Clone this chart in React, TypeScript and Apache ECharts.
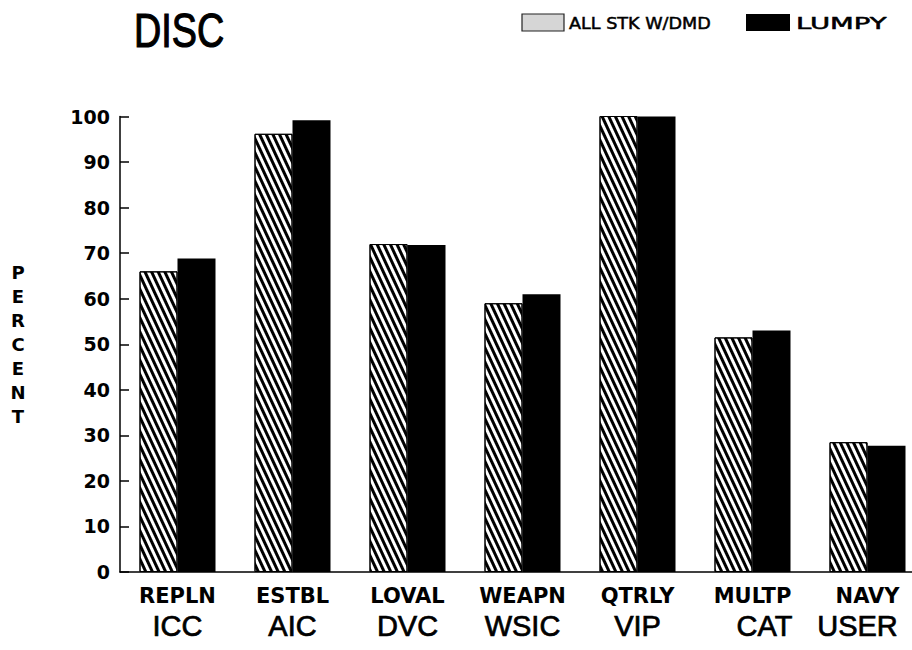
import React, { useEffect, useRef } from "react";
import * as echarts from "echarts";

const categories = ["REPLN", "ESTBL", "LOVAL", "WEAPN", "QTRLY", "MULTP", "NAVY"];
const subLabels = ["ICC", "AIC", "DVC", "WSIC", "VIP", "CAT", "USER"];
const allStkValues = [66, 96.2, 72, 59, 100.3, 51.5, 28.5];
const lumpyValues = [68.8, 99.2, 71.8, 61, 100, 53, 27.7];
const seriesNames = ["ALL STK W/DMD", "LUMPY"];
const titleText = "DISC";
const yAxisName = "PERCENT";
const yMin = 0;
const yMax = 100;
const yInterval = 10;

export default function App() {
  const ref = useRef<HTMLDivElement>(null);

  useEffect(() => {
    if (!ref.current) return;
    const chart = echarts.init(ref.current, undefined, { renderer: "svg" });
    const subKey = (i: number) => (i === 5 ? "c" : i === 6 ? "d" : "b");
    const subStyle = {
      fontFamily: "Liberation Sans",
      fontSize: 29,
      lineHeight: 34,
      color: "#000",
      textBorderColor: "#000",
      textBorderWidth: 0.7,
    };
    const legendText = {
      fontFamily: "DejaVu Sans",
      fontSize: 16,
      fill: "#000",
      stroke: "#000",
      lineWidth: 0.5,
      textAlign: "left",
      textVerticalAlign: "middle",
    };
    const option = {
      animation: false,
      backgroundColor: "#fff",
      grid: { left: 120, top: 116.5, width: 805, bottom: 78, containLabel: false },
      graphic: [
        {
          type: "text",
          x: 134,
          y: 30,
          scaleX: 0.77,
          style: {
            text: titleText,
            fontFamily: "Liberation Sans",
            fontSize: 49,
            fill: "#000",
            stroke: "#000",
            lineWidth: 1.2,
            textAlign: "left",
            textVerticalAlign: "middle",
          },
        },
        {
          type: "rect",
          shape: { x: 522, y: 14, width: 42, height: 17 },
          style: { fill: "#d6d6d6", stroke: "#222", lineWidth: 1.2 },
        },
        {
          type: "text",
          x: 569,
          y: 23,
          scaleX: 1.1,
          style: { ...legendText, text: seriesNames[0] },
        },
        {
          type: "rect",
          shape: { x: 746, y: 14, width: 44, height: 17 },
          style: { fill: "#000" },
        },
        {
          type: "text",
          x: 796,
          y: 23,
          scaleX: 1.72,
          style: { ...legendText, text: seriesNames[1] },
        },
      ],
      xAxis: {
        type: "category",
        data: categories,
        axisLine: { show: true, lineStyle: { color: "#000", width: 1.5 } },
        axisTick: { show: false },
        splitLine: { show: false },
        axisLabel: {
          interval: 0,
          margin: 11,
          color: "#000",
          formatter: (value: string, index: number) =>
            `{a|${value}}\n{${subKey(index)}|${subLabels[index]}}`,
          rich: {
            a: { fontFamily: "DejaVu Sans", fontWeight: "bold", fontSize: 21, lineHeight: 26, color: "#000" },
            b: { ...subStyle },
            c: { ...subStyle, padding: [0, 0, 0, 24] },
            d: { ...subStyle, padding: [0, 20, 0, 0] },
          },
        },
      },
      yAxis: {
        type: "value",
        min: yMin,
        max: yMax,
        interval: yInterval,
        name: yAxisName.split("").join("\n"),
        nameLocation: "middle",
        nameRotate: 0,
        nameGap: 102,
        nameTextStyle: {
          fontFamily: "DejaVu Sans",
          fontWeight: "bold",
          fontSize: 18,
          lineHeight: 24,
          color: "#000",
          align: "center",
          verticalAlign: "middle",
          padding: [20, 0, 0, 0],
        },
        axisLine: { show: true, lineStyle: { color: "#000", width: 1.5 } },
        axisTick: { show: true, inside: true, length: 9, lineStyle: { color: "#000", width: 1.5 } },
        splitLine: { show: false },
        axisLabel: {
          margin: 10,
          color: "#000",
          fontFamily: "DejaVu Sans",
          fontWeight: "bold",
          fontSize: 19,
        },
      },
      series: [
        {
          name: seriesNames[0],
          type: "bar",
          data: allStkValues,
          barWidth: 38,
          barGap: "0%",
          itemStyle: {
            color: "#fff",
            borderColor: "#000",
            borderWidth: 1,
            decal: {
              symbol: "rect",
              symbolSize: 1,
              color: "#000",
              backgroundColor: "#fff",
              dashArrayX: [1, 0],
              dashArrayY: [2.2, 2.8],
              rotation: (65 * Math.PI) / 180,
            },
          },
        },
        {
          name: seriesNames[1],
          type: "bar",
          data: lumpyValues,
          barWidth: 38,
          barGap: "0%",
          itemStyle: { color: "#000" },
        },
      ],
    };
    chart.setOption(option as any);
    return () => chart.dispose();
  }, []);

  return (
    <div
      ref={ref}
      style={{ position: "fixed", left: 0, top: 0, width: 930, height: 650 }}
    />
  );
}
